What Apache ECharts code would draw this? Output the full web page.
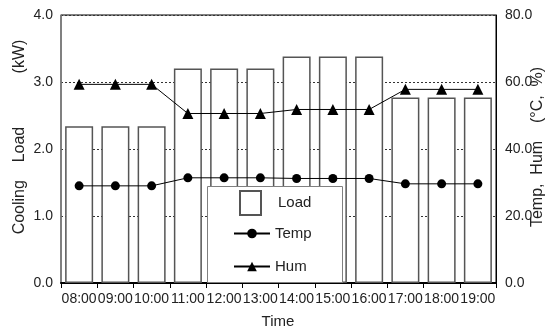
<!DOCTYPE html>
<html>
<head>
<meta charset="utf-8">
<script src="https://cdn.jsdelivr.net/npm/echarts@6/dist/echarts.min.js"></script>
<style>
  html, body { margin: 0; padding: 0; background: #fff; }
  #chart { width: 554px; height: 334px; }
</style>
</head>
<body>
<div id="chart"></div>
<script>
// Hourly cooling load with indoor temperature and humidity
const hours = ['08:00', '09:00', '10:00', '11:00', '12:00', '13:00',
               '14:00', '15:00', '16:00', '17:00', '18:00', '19:00'];
const loadKW = [2.34, 2.34, 2.34, 3.2, 3.2, 3.2, 3.38, 3.38, 3.38, 2.77, 2.77, 2.77];
const tempC = [29.0, 29.0, 29.0, 31.4, 31.4, 31.4, 31.2, 31.2, 31.2, 29.6, 29.6, 29.6];
const humPct = [59.3, 59.3, 59.3, 50.6, 50.6, 50.6, 51.8, 51.8, 51.8, 57.8, 57.8, 57.8];

const sans = '"Liberation Sans", Arial, sans-serif';
const textColor = '#222';

const chart = echarts.init(document.getElementById('chart'), null, { renderer: 'canvas' });

chart.setOption({
  animation: false,
  backgroundColor: '#fff',
  grid: {
    left: 61, right: 58, top: 15, bottom: 51,
    show: true, borderColor: '#000', borderWidth: 1, backgroundColor: 'transparent'
  },
  xAxis: {
    type: 'category',
    data: hours,
    boundaryGap: true,
    axisLine: { lineStyle: { color: '#000', width: 2 } },
    axisTick: { show: true, length: 5, inside: false, lineStyle: { color: '#000', width: 1 } },
    axisLabel: { fontFamily: sans, fontSize: 14, color: textColor, margin: 9, interval: 0 },
    splitLine: { show: false }
  },
  yAxis: [
    {
      type: 'value', min: 0, max: 4, interval: 1, position: 'left',
      axisLine: { show: true, lineStyle: { color: '#808080', width: 1.5 } },
      axisTick: { show: false },
      axisLabel: {
        fontFamily: sans, fontSize: 14, color: textColor, margin: 8,
        formatter: v => v.toFixed(1)
      },
      splitLine: { show: true, lineStyle: { color: '#333', width: 1, type: [2, 2] } }
    },
    {
      type: 'value', min: 0, max: 80, interval: 20, position: 'right',
      axisLine: { show: true, lineStyle: { color: '#000', width: 1 } },
      axisTick: { show: false },
      axisLabel: {
        fontFamily: sans, fontSize: 14, color: textColor, margin: 9,
        formatter: v => v.toFixed(1)
      },
      splitLine: { show: false }
    }
  ],
  legend: [
    {
      data: [{ name: 'Load', icon: 'rect' }],
      left: 239, top: 190, padding: 0, z: 12,
      itemWidth: 21, itemHeight: 24,
      textStyle: { fontFamily: sans, fontSize: 15, color: textColor, padding: [0, 0, 0, 12] }
    },
    {
      data: ['Temp', 'Hum'],
      orient: 'vertical',
      left: 233, top: 226, padding: 0, z: 12,
      itemWidth: 36, itemHeight: 12, itemGap: 18,
      textStyle: { fontFamily: sans, fontSize: 15, color: textColor }
    }
  ],
  graphic: [
    {
      type: 'rect', z: 10,
      shape: { x: 207.5, y: 186.5, width: 135, height: 96 },
      style: { fill: '#fff', stroke: '#808080', lineWidth: 1 }
    },
    {
      type: 'text', z: 10,
      x: 20, y: 137, rotation: Math.PI / 2,
      style: {
        text: 'Cooling    Load            (kW)',
        font: '16px ' + sans, fill: textColor,
        align: 'center', verticalAlign: 'middle'
      }
    },
    {
      type: 'text', z: 10,
      x: 538, y: 147, rotation: Math.PI / 2,
      style: {
        text: 'Temp,  Hum    (°C,  %)',
        font: '16px ' + sans, fill: textColor,
        align: 'center', verticalAlign: 'middle'
      }
    },
    {
      type: 'text', z: 10,
      x: 278, y: 322,
      style: {
        text: 'Time',
        font: '15px ' + sans, fill: textColor,
        align: 'center', verticalAlign: 'middle'
      }
    }
  ],
  series: [
    {
      name: 'Load', type: 'bar', yAxisIndex: 0,
      data: loadKW, barWidth: 28,
      itemStyle: { color: '#fff', borderColor: '#555', borderWidth: 1.5 }
    },
    {
      name: 'Temp', type: 'line', yAxisIndex: 1,
      data: tempC, symbol: 'circle', symbolSize: 9,
      lineStyle: { color: '#000', width: 1 },
      itemStyle: { color: '#000' }
    },
    {
      name: 'Hum', type: 'line', yAxisIndex: 1,
      data: humPct, symbol: 'triangle', symbolSize: 11,
      lineStyle: { color: '#000', width: 1 },
      itemStyle: { color: '#000' }
    }
  ]
});
</script>
</body>
</html>
